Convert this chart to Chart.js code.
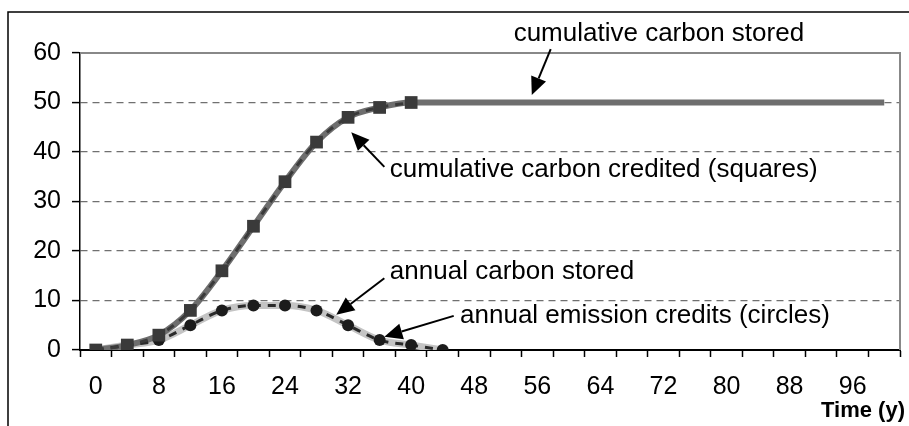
<!DOCTYPE html>
<html>
<head>
<meta charset="utf-8">
<title>Carbon stored and credited</title>
<script src="https://cdn.jsdelivr.net/npm/chart.js@4.4.1/dist/chart.umd.min.js"></script>
<style>
  html, body { margin: 0; padding: 0; background: #fff; }
  #wrap { width: 909px; height: 426px; }
</style>
</head>
<body>
<div id="wrap"><canvas id="carbonChart" width="909" height="426"></canvas></div>
<script>
// --- data ---
const years = ['0','4','8','12','16','20','24','28','32','36','40','44','48','52','56','60','64','68','72','76','80','84','88','92','96','100'];
const cumulativeStored = [0, 1, 3, 8, 16, 25, 34, 42, 47, 49, 50, 50, 50, 50, 50, 50, 50, 50, 50, 50, 50, 50, 50, 50, 50, 50];
const cumulativeCredited = [0, 1, 3, 8, 16, 25, 34, 42, 47, 49, 50];
const annualStored = [0, 1, 2, 5, 8, 9, 9, 8, 5, 2, 1, 0];
const annualCredits = [0, 1, 2, 5, 8, 9, 9, 8, 5, 2, 1, 0];
const yTicks = [0, 10, 20, 30, 40, 50, 60];

// callout labels, placed in data units (year, value)
const callouts = [
  { text: 'cumulative carbon stored', at: [53.0, 62.4], from: [57.7, 60.8], to: [55.3, 51.5] },
  { text: 'cumulative carbon credited (squares)', at: [37.3, 34.9], from: [36.6, 37.0], to: [32.4, 44.0] },
  { text: 'annual carbon stored', at: [37.3, 14.3], from: [36.6, 14.5], to: [30.5, 7.1] },
  { text: 'annual emission credits (circles)', at: [46.2, 5.5], from: [45.4, 6.9], to: [36.6, 2.7] }
];

const FONT = "'Liberation Sans', Arial, sans-serif";

function drawArrow(ctx, x1, y1, x2, y2) {
  const ang = Math.atan2(y2 - y1, x2 - x1);
  const head = 18, half = 8;
  const bx = x2 - head * Math.cos(ang), by = y2 - head * Math.sin(ang);
  ctx.beginPath();
  ctx.moveTo(x1, y1);
  ctx.lineTo(bx, by);
  ctx.stroke();
  ctx.beginPath();
  ctx.moveTo(x2, y2);
  ctx.lineTo(bx + half * Math.sin(ang), by - half * Math.cos(ang));
  ctx.lineTo(bx - half * Math.sin(ang), by + half * Math.cos(ang));
  ctx.closePath();
  ctx.fill();
}

const framePlugin = {
  id: 'frame',
  beforeDraw(chart) {
    const ctx = chart.ctx;
    ctx.save();
    ctx.fillStyle = '#fff';
    ctx.fillRect(0, 0, chart.width, chart.height);
    ctx.strokeStyle = '#000';
    ctx.lineWidth = 1.5;
    ctx.beginPath();
    ctx.moveTo(8, chart.height);
    ctx.lineTo(8, 12);
    ctx.lineTo(chart.width, 12);
    ctx.stroke();
    ctx.restore();
  },
  beforeDatasetsDraw(chart) {
    const { ctx, chartArea: a } = chart;
    ctx.save();
    ctx.strokeStyle = '#888';
    ctx.lineWidth = 2;
    ctx.beginPath();
    ctx.moveTo(a.left, a.top);
    ctx.lineTo(a.right, a.top);
    ctx.lineTo(a.right, a.bottom);
    ctx.stroke();
    ctx.restore();
  },
  afterDraw(chart) {
    const ctx = chart.ctx;
    const xs = chart.scales.x, ys = chart.scales.y;
    const px = yr => xs.getPixelForValue(yr / 4);
    const py = v => ys.getPixelForValue(v);
    ctx.save();
    ctx.fillStyle = '#000';
    ctx.strokeStyle = '#000';
    ctx.lineWidth = 2;
    ctx.font = '26px ' + FONT;
    ctx.textBaseline = 'alphabetic';
    ctx.textAlign = 'left';
    callouts.forEach(c => {
      ctx.fillText(c.text, px(c.at[0]), py(c.at[1]));
      drawArrow(ctx, px(c.from[0]), py(c.from[1]), px(c.to[0]), py(c.to[1]));
    });
    // axis title
    ctx.font = 'bold 22px ' + FONT;
    ctx.textAlign = 'right';
    ctx.fillText('Time (y)', 905, 417);
    ctx.restore();
  }
};

const ctx = document.getElementById('carbonChart').getContext('2d');
new Chart(ctx, {
  type: 'line',
  data: {
    labels: years,
    datasets: [
      {
        label: 'cumulative carbon credited (squares)',
        data: cumulativeCredited,
        borderColor: '#3a3a3a',
        borderWidth: 3,
        borderDash: [8, 7],
        pointStyle: 'rect',
        pointRadius: 9,
        pointBackgroundColor: '#3a3a3a',
        pointBorderWidth: 0,
        cubicInterpolationMode: 'monotone',
        order: 1
      },
      {
        label: 'annual emission credits (circles)',
        data: annualCredits,
        borderColor: '#2a2a2a',
        borderWidth: 3,
        borderDash: [8, 7],
        pointStyle: 'circle',
        pointRadius: 6,
        pointBackgroundColor: '#1c1c1c',
        pointBorderWidth: 0,
        cubicInterpolationMode: 'monotone',
        order: 2
      },
      {
        label: 'cumulative carbon stored',
        data: cumulativeStored,
        borderColor: '#6e6e6e',
        borderWidth: 6,
        pointRadius: 0,
        cubicInterpolationMode: 'monotone',
        order: 3
      },
      {
        label: 'annual carbon stored',
        data: annualStored,
        borderColor: '#c4c4c4',
        borderWidth: 7,
        pointRadius: 0,
        cubicInterpolationMode: 'monotone',
        order: 4
      }
    ]
  },
  options: {
    responsive: false,
    animation: false,
    layout: { padding: { top: 53, right: 7, left: 0, bottom: 0 } },
    plugins: {
      legend: { display: false },
      tooltip: { enabled: false }
    },
    scales: {
      x: {
        type: 'category',
        offset: true,
        grid: {
          offset: true,
          drawOnChartArea: false,
          drawTicks: true,
          tickLength: 7,
          tickColor: '#000',
          tickWidth: 1.5
        },
        border: { display: true, color: '#000', width: 2 },
        ticks: {
          autoSkip: false,
          maxRotation: 0,
          padding: 15,
          color: '#000',
          font: { family: FONT, size: 25 },
          callback: (val, i) => (i % 2 === 0 ? years[i] : '')
        },
        afterFit: s => { s.height = 76; }
      },
      y: {
        min: 0,
        max: 60,
        afterBuildTicks: s => { s.ticks = yTicks.map(v => ({ value: v })); },
        grid: {
          color: '#707070',
          lineWidth: 1.2,
          tickLength: 8,
          tickColor: '#000',
          tickWidth: 1.5
        },
        border: { display: true, color: '#000', width: 1.5, dash: [7, 5] },
        ticks: {
          padding: 11,
          color: '#000',
          font: { family: FONT, size: 25 }
        },
        afterFit: s => { s.width = 80; }
      }
    }
  },
  plugins: [framePlugin]
});
</script>
</body>
</html>
